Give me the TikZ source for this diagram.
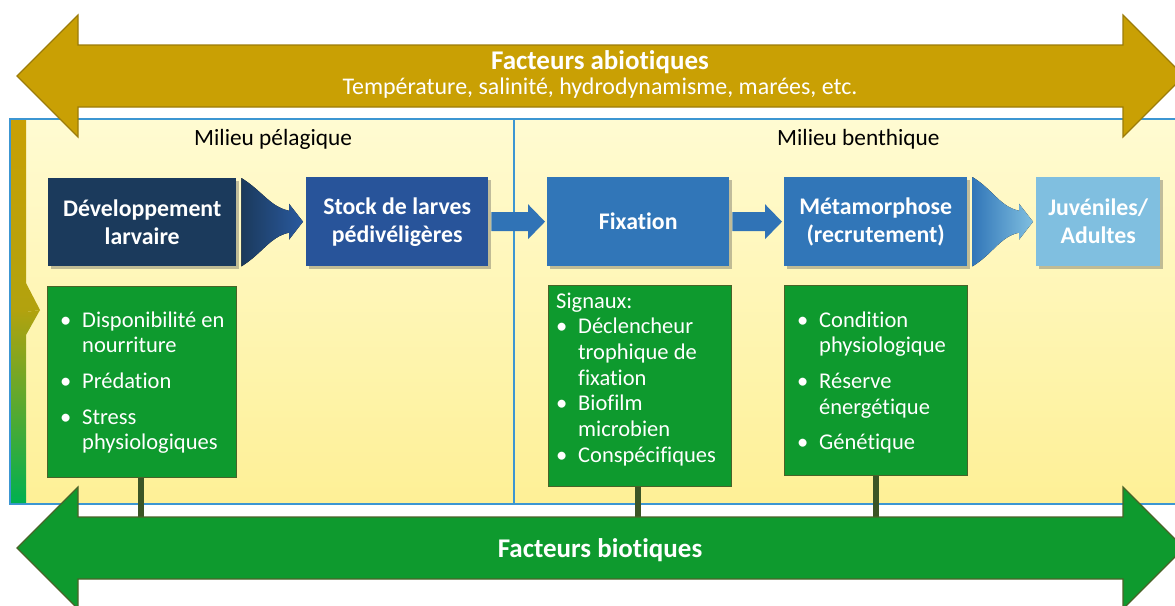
\documentclass[tikz,border=0pt]{standalone}
\usepackage{fontspec}
\setmainfont{Carlito}[Ligatures=NoCommon]
\usetikzlibrary{shadows,calc}

\definecolor{gold}{HTML}{C9A004}
\definecolor{golddark}{HTML}{9C7C0A}
\definecolor{leafgreen}{HTML}{0E9A2E}
\definecolor{olivedark}{HTML}{4A6328}
\definecolor{stem}{HTML}{3B5526}
\definecolor{navy}{HTML}{1B3A5C}
\definecolor{royal}{HTML}{28549A}
\definecolor{midblue}{HTML}{3176B8}
\definecolor{skyblue}{HTML}{80BFE0}
\definecolor{paneltop}{HTML}{FFFBD2}
\definecolor{panelbot}{HTML}{FEF096}
\definecolor{panelline}{HTML}{3C96D2}
\definecolor{barmid}{HTML}{8FA51E}
\definecolor{barbot}{HTML}{00B050}

% bullet item with hanging indent
\newcommand\bitem[1]{\noindent\hangindent=22pt\hangafter=1\hbox to 22pt{\textbullet\hfil}#1\par}
% natural word spacing inside the lists
\newcommand\plainspaces{\spaceskip=0pt\xspaceskip=0pt\relax}

% tapered block arrow between two stage boxes
\newcommand\flowcurve[4]{%
  \fill[left color=#3,right color=#4]
    ($(#1.north east)+(5,0)$)
      .. controls ($(#1.north east)+(26,13)$) and ($(#2.west)+(-36,-15)$) .. ($(#2.west)+(-17,-11)$)
    -- ($(#2.west)+(-17,-18)$) -- ($(#2.west)+(-3,0)$) -- ($(#2.west)+(-17,18)$)
    -- ($(#2.west)+(-17,11)$)
      .. controls ($(#2.west)+(-36,15)$) and ($(#1.south east)+(26,-13)$) .. ($(#1.south east)+(5,0)$)
    -- cycle;}

% straight block arrow between two stage boxes
\newcommand\flowstraight[2]{%
  \fill[flow]
    ($(#1.east)+(3,-9.5)$) -- ($(#2.west)+(-19,-9.5)$) -- ($(#2.west)+(-19,-17.5)$)
    -- ($(#2.west)+(-2,0)$) -- ($(#2.west)+(-19,17.5)$) -- ($(#2.west)+(-19,9.5)$)
    -- ($(#1.east)+(3,9.5)$) -- cycle;}

\begin{document}
\begin{tikzpicture}[x=1pt,y=-1pt,
  stage/.style={rectangle, inner sep=0pt, anchor=north west, text=white, align=center,
    font=\fontsize{23.8}{28}\selectfont\bfseries,
    drop shadow={shadow xshift=2.5pt, shadow yshift=-2.5pt, opacity=0.35, fill=black!70}},
  factorbox/.style={rectangle, inner sep=0pt, anchor=north west, fill=leafgreen,
    draw=olivedark, line width=1.2pt},
  factortext/.style={anchor=base west, inner sep=0pt, text=white, align=left,
    text width=#1, font=\fontsize{22.5}{25.7}\selectfont},
  flow/.style={fill=midblue!92!royal},
  stemline/.style={draw=stem, line width=6pt},
  bigarrow/.style={line width=1.2pt, line join=miter},
  milieu/.style={anchor=base west, inner sep=0pt, font=\fontsize{23.3}{27}\selectfont, text=black},
  banner/.style={anchor=base, inner sep=0pt, text=white},
]
\useasboundingbox (0,0) rectangle (1175,605);
\begin{scope}
\clip (0,0) rectangle (1175,605);

% environment panel
\fill[top color=paneltop, bottom color=panelbot] (10,119) rectangle (1185,504);
\draw[panelline, line width=1.3pt] (1185,119) -- (10,119) -- (10,504) -- (1185,504);
\draw[panelline, line width=1.3pt] (514,119) -- (514,504);

% side gauge with chevron
\shade[top color=gold, bottom color=gold!60!barmid]
  (11,120) -- (26,120) -- (26,283) -- (40,310) -- (26,312) -- (11,312) -- cycle;
\shade[top color=gold!60!barmid, bottom color=barbot]
  (11,312) -- (26,312) -- (40,310) -- (26,335) -- (26,503) -- (11,503) -- cycle;

% milieu labels
\node[milieu] (pelag) at (194,145) {Milieu pélagique};
\node[milieu] (benth) at (777,145) {Milieu benthique};

% factor boxes
\node[factorbox, minimum width=189, minimum height=191] (food) at (47,286) {};
\node[factorbox, minimum width=183, minimum height=201] (signal) at (548,285) {};
\node[factorbox, minimum width=183, minimum height=190] (cond) at (784,285) {};

% attachment points on the biotic arrow
\coordinate (bio1) at (141,518);
\coordinate (bio2) at (638,518);
\coordinate (bio3) at (876,518);
\draw[stemline] (food.south -| bio1) -- (bio1);
\draw[stemline] (signal.south -| bio2) -- (bio2);
\draw[stemline] (cond.south -| bio3) -- (bio3);

% abiotic arrow
\draw[bigarrow, fill=gold, draw=golddark]
  (17,76) -- (78,15) -- (78,45) -- (1123,45) -- (1123,15) -- (1184,76)
  -- (1123,137) -- (1123,107) -- (78,107) -- (78,137) -- cycle;
\node[banner, font=\fontsize{27}{30}\selectfont\bfseries] (abio) at (600,69) {Facteurs abiotiques};
\node[banner, font=\fontsize{23.9}{27}\selectfont] (abiolist) at (600,94) {Température, salinité, hydrodynamisme, marées, etc.};

% biotic arrow
\draw[bigarrow, fill=leafgreen, draw=olivedark]
  (17,548) -- (78,487) -- (78,517) -- (1123,517) -- (1123,487) -- (1184,548)
  -- (1123,609) -- (1123,579) -- (78,579) -- (78,609) -- cycle;
\node[banner, font=\fontsize{27}{30}\selectfont\bfseries] (bio) at (600,557) {Facteurs biotiques};

% stages
\node[stage, fill=navy, minimum width=188, minimum height=88] (dev) at (48,178) {Développement\\larvaire};
\node[stage, fill=royal, minimum width=182, minimum height=89] (stock) at (306,177) {Stock de larves\\pédivéligères};
\node[stage, fill=midblue, minimum width=182, minimum height=89] (fix) at (547,177) {Fixation};
\node[stage, fill=midblue, minimum width=183, minimum height=89] (meta) at (784,177) {Métamorphose\\(recrutement)};
\node[stage, fill=skyblue, minimum width=124, minimum height=89] (juv) at (1036,177) {Juvéniles/\\Adultes};

% flow arrows
\flowcurve{dev}{stock}{navy}{royal!85!midblue}
\flowstraight{stock}{fix}
\flowstraight{fix}{meta}
\flowcurve{meta}{juv}{midblue}{skyblue}

% factor lists
\node[factortext=172pt] (foodlist) at (60,327) {\plainspaces
  \bitem{Disponibilité en\newline nourriture}
  \setlength{\parskip}{10pt}%
  \bitem{Prédation}
  \bitem{Stress\newline physiologiques}};
\node[factortext=176pt] (signallist) at (556,308) {\plainspaces
  \noindent Signaux:\par
  \bitem{Déclencheur\newline trophique de\newline fixation}
  \bitem{Biofilm\newline microbien}
  \bitem{Conspécifiques}};
\node[factortext=168pt] (condlist) at (797,327) {\plainspaces
  \bitem{Condition\newline physiologique}
  \setlength{\parskip}{10pt}%
  \bitem{Réserve\newline énergétique}
  \bitem{Génétique}};
\end{scope}
\end{tikzpicture}
\end{document}
